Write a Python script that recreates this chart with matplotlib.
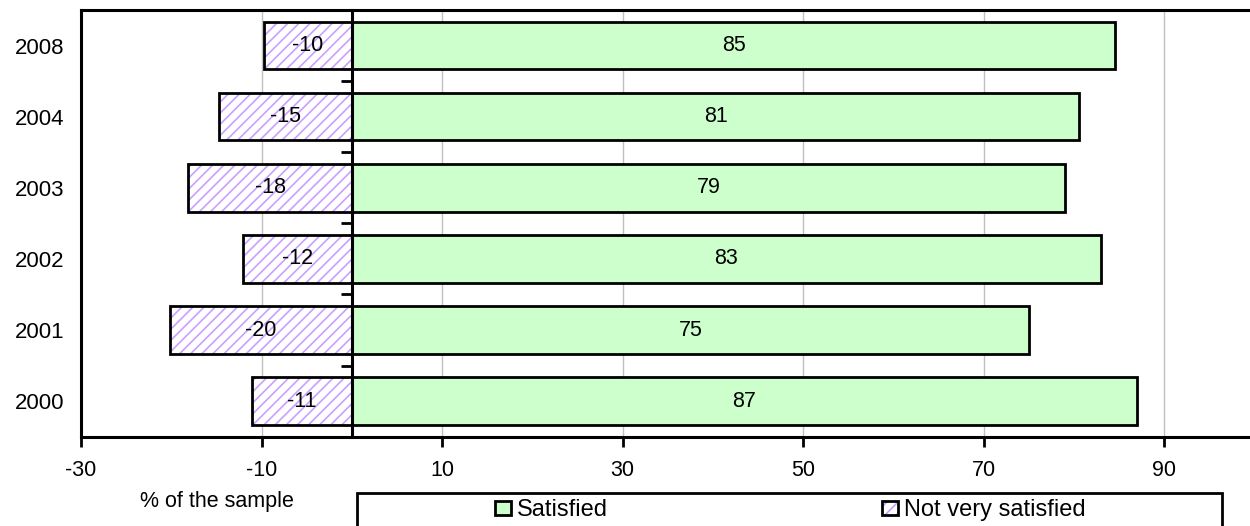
import matplotlib
matplotlib.use('Agg')
import matplotlib.pyplot as plt
from matplotlib.patches import Patch, Rectangle
from matplotlib.legend_handler import HandlerTuple

plt.rcParams['font.family'] = ['Liberation Sans', 'DejaVu Sans']
plt.rcParams['hatch.color'] = '#C9A0FF'
plt.rcParams['hatch.linewidth'] = 1.2

# 데이터 (위에서 아래 순서)
years = ['2008', '2004', '2003', '2002', '2001', '2000']
satisfied = [84.6, 80.6, 79.0, 83.0, 75.0, 87.0]
not_satisfied = [-9.7, -14.7, -18.1, -12.1, -20.1, -11.1]
x_ticks = [-30, -10, 10, 30, 50, 70, 90]

xmin, xmax = -30, 99.5
fs = 15.5

fig = plt.figure(figsize=(12.5, 5.26), dpi=100)
ax = fig.add_axes([81 / 1250, 1 - 436.7 / 526, 1 - 81 / 1250, (436.7 - 10) / 526])

pos = list(range(len(years)))

# 만족 막대
b_sat = ax.barh(pos, satisfied, height=0.67, color='#CCFFCC',
                edgecolor='black', linewidth=2, zorder=2)

# 불만족 막대 : 해치 먼저, 테두리는 따로
b_not = ax.barh(pos, not_satisfied, height=0.67, color='white',
                hatch='///', zorder=2)
b_not_edge = ax.barh(pos, not_satisfied, height=0.67, fill=False,
                     edgecolor='black', linewidth=2, zorder=3)

ax.bar_label(b_sat, labels=['{:.0f}'.format(v) for v in satisfied],
             label_type='center', fontsize=fs, zorder=4)
ax.bar_label(b_not_edge, labels=['{:.0f}'.format(v) for v in not_satisfied],
             label_type='center', fontsize=fs, zorder=4)

ax.set_xlim(xmin, xmax)
ax.set_ylim(-0.5, len(years) - 0.5)
ax.invert_yaxis()

ax.set_xticks(x_ticks)
ax.set_xticklabels([str(t) for t in x_ticks])
ax.tick_params(axis='x', direction='out', length=7, width=2, pad=10, labelsize=fs)
ax.set_yticks(pos)
ax.set_yticklabels(years)
ax.tick_params(axis='y', length=0, pad=12, labelsize=fs + 0.5)

ax.grid(axis='x', color='#C0C0C0', linewidth=1)
ax.set_axisbelow(True)

for s in ['left', 'bottom', 'top']:
    ax.spines[s].set_linewidth(2.2)
ax.spines['right'].set_visible(False)

# 0 위치의 세로축 (범주 사이 눈금)
sec = ax.secondary_yaxis((0 - xmin) / (xmax - xmin))
sec.spines['left'].set_linewidth(2.2)
sec.set_yticks([p + 0.5 for p in pos[:-1]])
sec.set_yticklabels([])
sec.tick_params(axis='y', direction='out', length=8, width=2)
sec.set_zorder(5)

fig.text(216.7 / 1250, 1 - 501 / 526, '% of the sample', fontsize=fs,
         ha='center', va='center')

# 범례 박스
fig.add_artist(Rectangle((357 / 1250, -0.1), (1221.7 - 357) / 1250,
                         0.1 + 1 - 492.7 / 526, transform=fig.transFigure,
                         fill=False, edgecolor='black', linewidth=2))

h_sat = Patch(facecolor='#CCFFCC', edgecolor='black', linewidth=2)
h_not = (Patch(facecolor='white', hatch='///'),
         Patch(fill=False, edgecolor='black', linewidth=2))
fig.legend([h_sat, h_not], ['Satisfied', 'Not very satisfied'],
           loc='center left', bbox_to_anchor=(495 / 1250, 1 - 510 / 526),
           ncol=2, frameon=False, fontsize=17, borderpad=0, borderaxespad=0,
           handlelength=0.68, handleheight=0.55, handletextpad=0.25,
           columnspacing=11.6,
           handler_map={tuple: HandlerTuple(ndivide=1, pad=0)})

plt.savefig('out.png', dpi=100)
